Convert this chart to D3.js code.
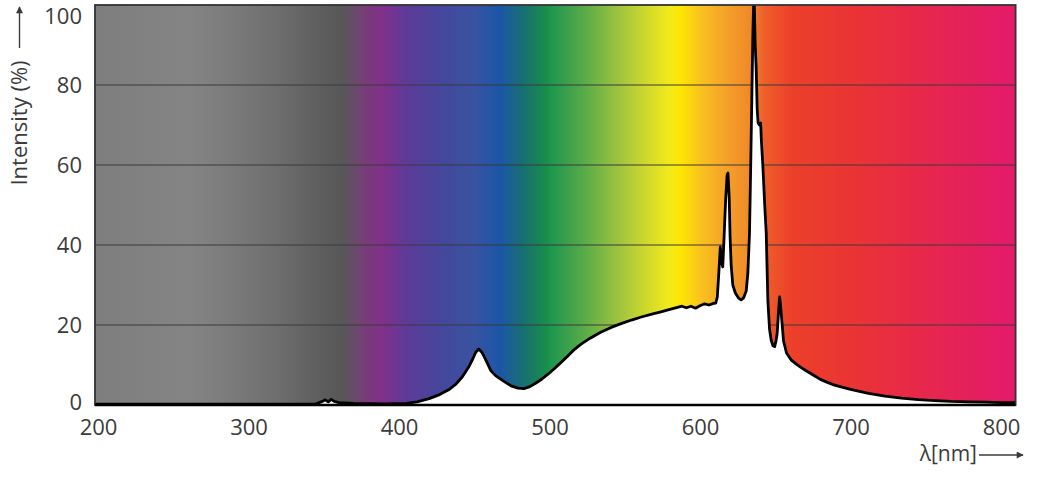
<!DOCTYPE html>
<html>
<head>
<meta charset="utf-8">
<script src="https://d3js.org/d3.v7.min.js"></script>
<style>
  body { margin: 0; background: #fff; }
  svg { display: block; }
</style>
</head>
<body>
<svg id="spectrum"></svg>
<script>
// wavelength (nm) and relative intensity (%)
var wavelength = [198, 250, 300, 345, 349, 351, 353, 355, 357, 360, 370, 390, 405, 412, 420, 427, 433, 438, 442, 446, 449, 451, 453, 455, 457, 459, 461, 464, 467, 471, 475, 479, 483, 487, 491, 495, 499, 503, 507, 512, 516, 521, 527, 534, 541, 548, 555, 561, 568, 574, 580, 585, 588, 591, 594, 597, 600, 603, 606, 609, 610.5, 611.5, 612.5, 613.5, 614.3, 615.1, 616, 617, 618, 618.6, 619.4, 620, 620.7, 621.8, 623.5, 625.5, 627.3, 629, 630.7, 631.8, 632.9, 633.7, 634.4, 635.1, 635.6, 636.1, 636.7, 637.3, 638, 638.6, 639.5, 640.3, 640.8, 641.8, 643, 644, 645.1, 646.2, 647.3, 648.5, 649.6, 650.5, 651.3, 652.3, 652.9, 653.5, 654.4, 655.5, 657.5, 660.7, 664, 667, 670, 673, 676, 680, 685, 690, 700, 712, 723, 734, 745, 756, 767, 778, 790, 800, 810];
var intensity = [0.2, 0.2, 0.2, 0.3, 0.9, 1.3, 0.8, 1.4, 0.9, 0.6, 0.4, 0.3, 0.4, 0.8, 1.6, 2.6, 3.8, 5.3, 7.0, 9.3, 11.5, 13.2, 14.0, 13.2, 11.8, 10.2, 8.6, 7.4, 6.6, 5.6, 4.7, 4.2, 4.1, 4.6, 5.5, 6.5, 7.7, 9.0, 10.4, 12.2, 13.7, 15.2, 16.7, 18.2, 19.4, 20.4, 21.3, 22.0, 22.7, 23.3, 23.9, 24.4, 24.7, 24.3, 24.7, 24.2, 24.8, 25.3, 25.0, 25.4, 25.5, 27, 33, 39.5, 36, 34.5, 42, 51, 57.5, 58, 52, 42, 35, 30, 28, 26.8, 26.3, 26.8, 28.5, 33, 43, 60, 76, 92, 100, 100, 90, 84.6, 74, 70.5, 70, 70.5, 66, 59.6, 50, 43, 26, 19, 16.2, 14.8, 14.6, 16, 18, 24, 27, 25, 21, 16, 13, 11.2, 10.2, 9.4, 8.7, 8.0, 7.3, 6.4, 5.6, 4.9, 3.9, 2.9, 2.2, 1.7, 1.35, 1.1, 0.9, 0.8, 0.7, 0.6, 0.6];

var xTicks = [200, 300, 400, 500, 600, 700, 800];
var yTicks = [0, 20, 40, 60, 80, 100];
var gridValues = [20, 40, 60, 80];

// background spectrum colours by wavelength
var stopNm = [198, 260, 285, 319, 340, 362, 371, 379, 389, 405, 427, 449, 467, 483, 499, 501, 523, 545, 567, 580, 587, 600, 618, 633, 643, 661, 700, 745, 789, 810];
var stopColor = ["#7e7e7e", "#848484", "#7c7c7c", "#6e6e6e", "#626262", "#575757", "#6a4a6a", "#7a3a7a", "#80308a", "#5e3a98", "#46469c", "#3a52a0", "#1c56a8", "#187070", "#1a9048", "#1f9650", "#58ab48", "#9cc240", "#d6dc2a", "#f2ea1a", "#ffe600", "#f9c31e", "#f4a02a", "#f08a28", "#ee5e2a", "#ec402a", "#ea3434", "#e7284a", "#e41e62", "#e31a6a"];

var W = 1039, H = 478;
var nmMin = 198, nmMax = 809.7;
var font = "'Open Sans', 'Noto Sans', sans-serif";
var ink = "#3b3b3b";

var x = d3.scaleLinear().domain([200, 800]).range([98, 1001]);
var y = d3.scaleLinear().domain([0, 100]).range([405, 5]);

var svg = d3.select("#spectrum").attr("width", W).attr("height", H);

var plotL = x(nmMin), plotR = x(nmMax), plotT = y(100), plotB = y(0);

var defs = svg.append("defs");
var grad = defs.append("linearGradient")
  .attr("id", "rainbow")
  .attr("gradientUnits", "userSpaceOnUse")
  .attr("x1", plotL).attr("x2", plotR).attr("y1", 0).attr("y2", 0);
stopNm.forEach(function(nm, i) {
  grad.append("stop")
    .attr("offset", (x(nm) - plotL) / (plotR - plotL))
    .attr("stop-color", stopColor[i]);
});
defs.append("clipPath").attr("id", "plotclip")
  .append("rect")
  .attr("x", plotL).attr("y", plotT)
  .attr("width", plotR - plotL).attr("height", plotB - plotT);

// coloured background
svg.append("rect")
  .attr("x", plotL).attr("y", plotT)
  .attr("width", plotR - plotL).attr("height", plotB - plotT)
  .attr("fill", "url(#rainbow)");

// grid lines
svg.selectAll(".grid")
  .data(gridValues)
  .enter().append("line")
  .attr("x1", plotL).attr("x2", plotR)
  .attr("y1", function(d) { return y(d); })
  .attr("y2", function(d) { return y(d); })
  .attr("stroke", "#3a3a3a")
  .attr("stroke-width", 1.2);

var data = wavelength.map(function(w, i) { return [w, intensity[i]]; });

var plot = svg.append("g").attr("clip-path", "url(#plotclip)");

// white area under the curve
plot.append("path")
  .datum(data)
  .attr("fill", "#fff")
  .attr("d", d3.area()
    .x(function(d) { return x(d[0]); })
    .y0(plotB)
    .y1(function(d) { return y(d[1]); }));

// spectrum line
plot.append("path")
  .datum(data)
  .attr("fill", "none")
  .attr("stroke", "#000")
  .attr("stroke-width", 2.8)
  .attr("stroke-linejoin", "round")
  .attr("d", d3.line()
    .x(function(d) { return x(d[0]); })
    .y(function(d) { return y(d[1]); }));

// frame
svg.append("rect")
  .attr("x", plotL).attr("y", plotT)
  .attr("width", plotR - plotL).attr("height", plotB - plotT)
  .attr("fill", "none")
  .attr("stroke", "#333")
  .attr("stroke-width", 1.8);
svg.append("line")
  .attr("x1", plotL).attr("x2", plotR)
  .attr("y1", plotB).attr("y2", plotB)
  .attr("stroke", "#000").attr("stroke-width", 2.5);

// axes (labels only)
var yAxis = svg.append("g")
  .attr("transform", "translate(" + plotL + ",0)")
  .call(d3.axisLeft(y).tickValues(yTicks).tickSize(0).tickPadding(13));
yAxis.select(".domain").remove();
yAxis.selectAll(".tick")
  .filter(function(d) { return d === 100; })
  .attr("transform", "translate(0," + (y(100) + 11.5) + ")");
yAxis.selectAll(".tick")
  .filter(function(d) { return d === 0; })
  .attr("transform", "translate(0," + (y(0) - 2) + ")");

var xAxis = svg.append("g")
  .attr("transform", "translate(0," + plotB + ")")
  .call(d3.axisBottom(x).tickValues(xTicks).tickSize(0).tickPadding(14));
xAxis.select(".domain").remove();

[yAxis, xAxis].forEach(function(g) {
  g.attr("font-family", font).attr("font-size", 22);
  g.selectAll(".tick text").attr("fill", ink);
});

// axis titles with arrows
defs.append("marker")
  .attr("id", "arrow")
  .attr("viewBox", "0 0 10 10")
  .attr("refX", 9).attr("refY", 5)
  .attr("markerWidth", 9).attr("markerHeight", 7)
  .attr("markerUnits", "userSpaceOnUse")
  .attr("orient", "auto")
  .append("path").attr("d", "M0,0 L10,5 L0,10 z").attr("fill", ink);

svg.append("text")
  .attr("transform", "translate(27,123) rotate(-90)")
  .attr("text-anchor", "middle")
  .attr("fill", ink)
  .attr("font-family", font)
  .attr("font-size", 22)
  .text("Intensity (%)");
svg.append("line")
  .attr("x1", 19.5).attr("x2", 19.5)
  .attr("y1", 48).attr("y2", 7)
  .attr("stroke", ink).attr("stroke-width", 1.4)
  .attr("marker-end", "url(#arrow)");

svg.append("text")
  .attr("x", 977).attr("y", 461)
  .attr("text-anchor", "end")
  .attr("fill", ink)
  .attr("font-family", font)
  .attr("font-size", 21)
  .text("λ[nm]");
svg.append("line")
  .attr("x1", 979).attr("x2", 1023)
  .attr("y1", 455).attr("y2", 455)
  .attr("stroke", ink).attr("stroke-width", 1.4)
  .attr("marker-end", "url(#arrow)");
</script>
</body>
</html>
